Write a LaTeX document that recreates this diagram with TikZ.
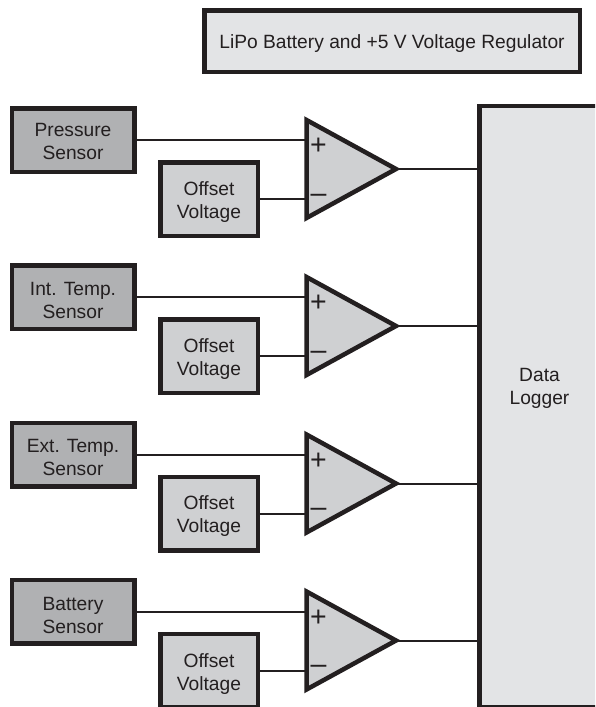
\documentclass[tikz,border=0pt]{standalone}
\usepackage{fontspec}
\setmainfont{Liberation Sans}
\usetikzlibrary{calc, positioning}

\definecolor{inkline}{HTML}{231F20}
\definecolor{sensorgray}{HTML}{B0B1B3}
\definecolor{offsetgray}{HTML}{CFD0D2}
\definecolor{palegray}{HTML}{E3E4E6}

\begin{document}
\begin{tikzpicture}[
    x=1pt, y=-1pt,
    every node/.style={text=inkline, font=\fontsize{19.2}{23}\selectfont, align=center, inner sep=0pt},
    block/.style={draw=inkline, line width=4.5pt, rectangle},
    blocktext/.style={yshift=#1},
    sensorblock/.style={block, fill=sensorgray, minimum width=122.5pt, minimum height=63.5pt},
    offsetblock/.style={block, fill=offsetgray, minimum width=97.5pt, minimum height=73.5pt},
    opamp/.style={draw=inkline, line width=4.5pt, fill=offsetgray, miter limit=10},
    signtext/.style={font=\fontsize{28.5}{28.5}\selectfont},
    wire/.style={draw=inkline, line width=2pt}
]

    \useasboundingbox (0,0) rectangle (595,707);
    \clip (0,0) rectangle (595,707);

    % 1. Bateria e bloco do registrador
    \node[block, fill=palegray, minimum width=375.5pt, minimum height=61.5pt, label={[blocktext=-3pt, name=batteryText]center:LiPo Battery and +5 V Voltage Regulator}] (battery) at (392,41) {};
    \node[block, fill=palegray, minimum width=120pt, minimum height=601pt, label={[blocktext=18pt, name=loggerText]center:Data\\Logger}] (logger) at (539.5,406.5) {};

    % 2. Sensores
    \node[sensorblock, label={[blocktext=-1pt, name=pressureText]center:Pressure\\Sensor}] (pressure) at (73,140) {};
    \node[sensorblock, label={[blocktext=-3pt, name=intText]center:Int. Temp.\\Sensor}] (inttemp) at (73,297) {};
    \node[sensorblock, label={[blocktext=-2.5pt, name=extText]center:Ext. Temp.\\Sensor}] (exttemp) at (73,454.5) {};
    \node[sensorblock, label={[blocktext=-4pt, name=batText]center:Battery\\Sensor}] (batsensor) at (73,611.5) {};

    % 3. Tensoes de offset
    \node[offsetblock, label={[blocktext=-3pt, name=offsetTextA]center:Offset\\Voltage}] (offsetA) at (209,199) {};
    \node[offsetblock, label={[blocktext=-3.5pt, name=offsetTextB]center:Offset\\Voltage}] (offsetB) at (209,356) {};
    \node[offsetblock, label={[blocktext=-3pt, name=offsetTextC]center:Offset\\Voltage}] (offsetC) at (209,513.5) {};
    \node[offsetblock, label={[blocktext=-3.5pt, name=offsetTextD]center:Offset\\Voltage}] (offsetD) at (209,670.5) {};

    % 4. Amplificadores
    \coordinate (ampA) at (306.5,169);
    \coordinate (ampB) at (306.5,326);
    \coordinate (ampC) at (306.5,483.5);
    \coordinate (ampD) at (306.5,640.5);

    \coordinate (plusA) at (pressure.east -| ampA);
    \coordinate (plusB) at (inttemp.east -| ampB);
    \coordinate (plusC) at (exttemp.east -| ampC);
    \coordinate (plusD) at (batsensor.east -| ampD);
    \coordinate (minusA) at (offsetA.east -| ampA);
    \coordinate (minusB) at (offsetB.east -| ampB);
    \coordinate (minusC) at (offsetC.east -| ampC);
    \coordinate (minusD) at (offsetD.east -| ampD);
    \coordinate (outA) at ($(ampA)+(89.5,0)$);
    \coordinate (outB) at ($(ampB)+(89.5,0)$);
    \coordinate (outC) at ($(ampC)+(89.5,0)$);
    \coordinate (outD) at ($(ampD)+(89.5,0)$);

    % 5. Ligacoes
    \draw[wire] (pressure.east) -- (plusA);
    \draw[wire] (inttemp.east) -- (plusB);
    \draw[wire] (exttemp.east) -- (plusC);
    \draw[wire] (batsensor.east) -- (plusD);
    \draw[wire] (offsetA.east) -- (minusA);
    \draw[wire] (offsetB.east) -- (minusB);
    \draw[wire] (offsetC.east) -- (minusC);
    \draw[wire] (offsetD.east) -- (minusD);
    \draw[wire] (outA) -- (outA -| logger.west);
    \draw[wire] (outB) -- (outB -| logger.west);
    \draw[wire] (outC) -- (outC -| logger.west);
    \draw[wire] (outD) -- (outD -| logger.west);

    % 6. Triangulos
    \draw[opamp] ($(ampA)+(0,-49)$) -- (outA) -- ($(ampA)+(0,49)$) -- cycle;
    \draw[opamp] ($(ampB)+(0,-49)$) -- (outB) -- ($(ampB)+(0,49)$) -- cycle;
    \draw[opamp] ($(ampC)+(0,-49)$) -- (outC) -- ($(ampC)+(0,49)$) -- cycle;
    \draw[opamp] ($(ampD)+(0,-49)$) -- (outD) -- ($(ampD)+(0,49)$) -- cycle;

    % 7. Sinais de entrada
    \node[signtext] (signPlusA) at ($(plusA)+(12,6.5)$) {+};
    \node[signtext] (signPlusB) at ($(plusB)+(12,6.5)$) {+};
    \node[signtext] (signPlusC) at ($(plusC)+(12,6.5)$) {+};
    \node[signtext] (signPlusD) at ($(plusD)+(12,6.5)$) {+};
    \node[signtext] (signMinusA) at ($(minusA)+(12,-1)$) {–};
    \node[signtext] (signMinusB) at ($(minusB)+(12,-1)$) {–};
    \node[signtext] (signMinusC) at ($(minusC)+(12,-1)$) {–};
    \node[signtext] (signMinusD) at ($(minusD)+(12,-1)$) {–};

\end{tikzpicture}
\end{document}
